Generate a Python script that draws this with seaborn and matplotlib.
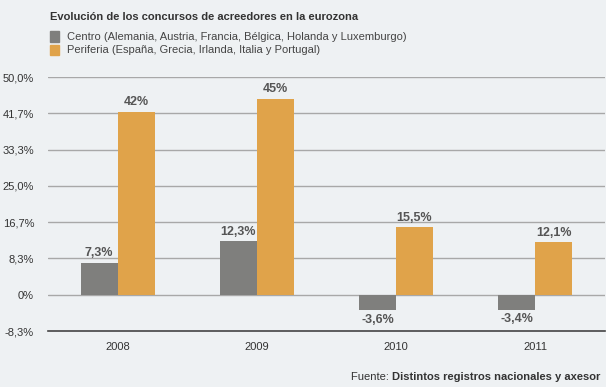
import pandas as pd
import numpy as np
import matplotlib.pyplot as plt
import seaborn as sns
from matplotlib.patches import Rectangle

years = ["2008", "2009", "2010", "2011"]
centro = [7.3, 12.3, -3.6, -3.4]
periferia = [42.0, 45.0, 15.5, 12.1]
centro_labels = ["7,3%", "12,3%", "-3,6%", "-3,4%"]
periferia_labels = ["42%", "45%", "15,5%", "12,1%"]
ytick_labels = ["-8,3%", "0%", "8,3%", "16,7%", "25,0%", "33,3%", "41,7%", "50,0%"]

bg = "#eef1f3"
gray = "#7f7f7d"
orange = "#e0a34a"

df = pd.DataFrame({
    "year": years * 2,
    "value": centro + periferia,
    "serie": ["Centro"] * 4 + ["Periferia"] * 4,
})

sns.set_style("white")
plt.rcParams['font.family'] = ['Liberation Sans', 'DejaVu Sans']

fig = plt.figure(figsize=(6.06, 3.87), dpi=100, facecolor=bg)
ax = fig.add_axes([0.0792, 0.1447, 0.919, 0.6563])
ax.set_facecolor(bg)

sns.barplot(data=df, x="year", y="value", hue="serie", palette=[gray, orange],
            width=0.53, ax=ax, legend=False, saturation=1, linewidth=0)

yticks = np.arange(-1, 7) * 50 / 6
ax.set_ylim(yticks[0], yticks[-1])
ax.set_yticks(yticks)
ax.set_yticklabels(ytick_labels, fontsize=8, color="#333333")
for y in yticks[1:]:
    ax.axhline(y, color="#a8a8a8", lw=1, zorder=0)
ax.set_xlabel("")
ax.set_ylabel("")
ax.tick_params(axis="x", labelsize=8, colors="#333333", length=0, pad=8)
ax.tick_params(axis="y", length=0, pad=10)
for s in ["top", "right", "left"]:
    ax.spines[s].set_visible(False)
ax.spines["bottom"].set_color("#444444")
ax.spines["bottom"].set_linewidth(1.2)

labels = centro_labels + periferia_labels
for patch, val, txt in zip(ax.patches, centro + periferia, labels):
    x = patch.get_x() + patch.get_width() / 2
    if val >= 0:
        ax.text(x, val + 0.8, txt, ha="center", va="bottom", fontsize=9,
                fontweight="bold", color="#555555")
    else:
        ax.text(x, val - 0.8, txt, ha="center", va="top", fontsize=9,
                fontweight="bold", color="#555555")

fig.text(0.0825, 0.955, "Evolución de los concursos de acreedores en la eurozona",
         fontsize=8, fontweight="bold", color="#333333", va="center")
fig.patches.append(Rectangle((0.0825, 0.892), 0.0145, 0.027, transform=fig.transFigure,
                             color=gray))
fig.patches.append(Rectangle((0.0825, 0.858), 0.0145, 0.027, transform=fig.transFigure,
                             color=orange))
fig.text(0.11, 0.905, "Centro (Alemania, Austria, Francia, Bélgica, Holanda y Luxemburgo)",
         fontsize=8, color="#444444", va="center")
fig.text(0.11, 0.871, "Periferia (España, Grecia, Irlanda, Italia y Portugal)",
         fontsize=8, color="#444444", va="center")

src = fig.text(0.99, 0.025, "Distintos registros nacionales y axesor", fontsize=8,
               fontweight="bold", color="#333333", ha="right", va="center")
fig.canvas.draw()
bb = src.get_window_extent()
fig.text(bb.x0 / fig.bbox.width, 0.025, "Fuente: ", fontsize=8, color="#333333",
         ha="right", va="center")

fig.savefig("out.png", dpi=100, facecolor=bg)
